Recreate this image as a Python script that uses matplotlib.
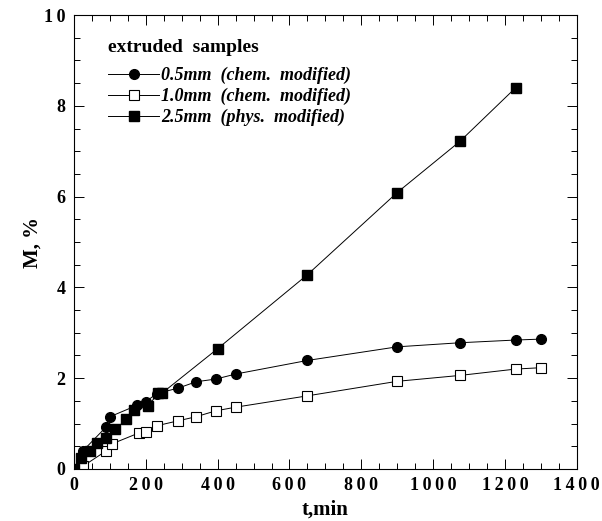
import matplotlib
matplotlib.use("Agg")
import matplotlib.pyplot as plt
from matplotlib.ticker import MultipleLocator, FuncFormatter

plt.rcParams["font.family"] = ["Liberation Serif", "DejaVu Serif"]

# Data
t_chem05 = [0, 25, 90, 100, 175, 200, 230, 290, 340, 395, 450, 650, 900, 1075, 1230, 1300]
m_chem05 = [0, 0.40, 0.93, 1.15, 1.40, 1.48, 1.66, 1.78, 1.92, 1.98, 2.09, 2.39, 2.69, 2.78, 2.84, 2.86]

t_chem10 = [0, 25, 90, 105, 180, 200, 230, 290, 340, 395, 450, 650, 900, 1075, 1230, 1300]
m_chem10 = [0, 0.06, 0.40, 0.55, 0.79, 0.81, 0.95, 1.06, 1.15, 1.28, 1.36, 1.61, 1.93, 2.06, 2.20, 2.23]

t_phys25 = [0, 18, 45, 65, 90, 115, 145, 168, 205, 235, 245, 400, 650, 900, 1075, 1230]
m_phys25 = [0, 0.23, 0.40, 0.57, 0.69, 0.87, 1.09, 1.30, 1.38, 1.67, 1.67, 2.65, 4.28, 6.09, 7.22, 8.40]

labels = ["0.5mm  (chem.  modified)",
          "1.0mm  (chem.  modified)",
          "2.5mm  (phys.  modified)"]

fig = plt.figure(figsize=(6.02, 5.21), dpi=100)
ax = fig.add_axes([0.123, 0.100, 0.835, 0.871])

ax.plot(t_chem05, m_chem05, color="black", lw=0.7, marker="o", ms=7,
        mfc="black", mec="black", label=labels[0])
ax.plot(t_chem10, m_chem10, color="black", lw=0.7, marker="s", ms=7,
        mfc="white", mec="black", mew=0.8, label=labels[1])
ax.plot(t_phys25, m_phys25, color="black", lw=0.7, marker="s", ms=7,
        mfc="black", mec="black", label=labels[2])

ax.set_xlim(0, 1400)
ax.set_ylim(0, 10)
ax.xaxis.set_major_locator(MultipleLocator(200))
ax.xaxis.set_minor_locator(MultipleLocator(50))
ax.yaxis.set_major_locator(MultipleLocator(2))
ax.yaxis.set_minor_locator(MultipleLocator(0.5))

spaced = FuncFormatter(lambda v, pos: "\u2009".join(str(int(round(v)))))
ax.xaxis.set_major_formatter(spaced)
ax.yaxis.set_major_formatter(spaced)

ax.tick_params(which="both", direction="in", top=True, right=True, width=0.7)
ax.tick_params(which="major", length=7, labelsize=13, pad=6)
ax.tick_params(which="minor", length=4)
for lab in ax.get_xticklabels() + ax.get_yticklabels():
    lab.set_fontweight("bold")
for s in ax.spines.values():
    s.set_linewidth(0.8)

ax.set_xlabel("t,min", fontsize=15, fontweight="bold", labelpad=4)
ax.set_ylabel("M, %", fontsize=15, fontweight="bold")
ax.yaxis.set_label_coords(-0.062, 0.5)

leg = ax.legend(loc="upper left", bbox_to_anchor=(0.068, 0.948), frameon=False,
                title="extruded  samples", handlelength=2.8, handletextpad=0.15,
                labelspacing=0.2, borderaxespad=0, borderpad=0,
                prop={"size": 13, "weight": "bold", "style": "italic"})
leg.get_title().set_fontsize(14)
leg.get_title().set_fontweight("bold")
leg._legend_box.align = "left"
leg._legend_box.sep = 8

fig.savefig("out.png", dpi=100)
